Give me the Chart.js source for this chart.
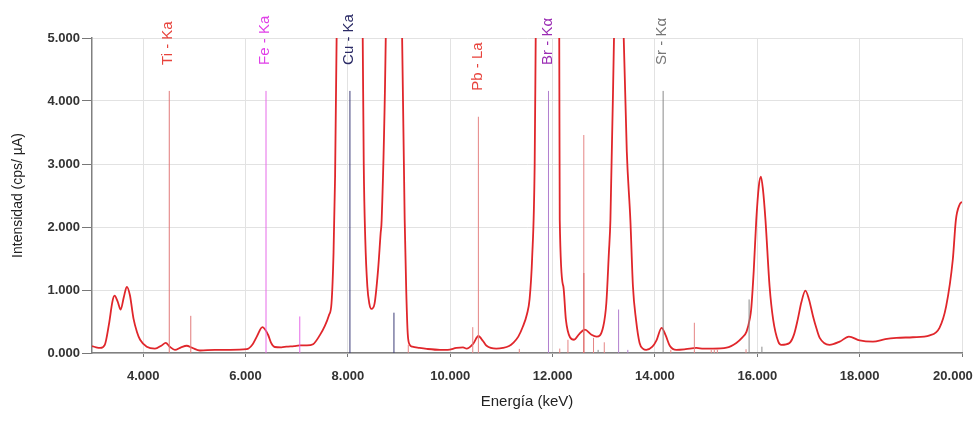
<!DOCTYPE html>
<html>
<head>
<meta charset="utf-8">
<script src="https://cdn.jsdelivr.net/npm/chart.js@4/dist/chart.umd.min.js"></script>
<style>
  body { margin: 0; background: #fff; }
  #wrap { width: 975px; height: 422px; }
</style>
</head>
<body>
<div id="wrap"><canvas id="spectrum"></canvas></div>
<script>
// Espectro (keV, intensidad en miles de cps/µA)
const energy = [
  3.00, 3.08, 3.16, 3.25, 3.33, 3.40, 3.44, 3.50, 3.56, 3.62, 3.68, 3.74, 3.81, 3.88, 3.94,
  4.07, 4.23, 4.36, 4.44, 4.52, 4.62, 4.74, 4.85, 4.96, 5.11, 5.40, 5.70, 6.02, 6.14, 6.22,
  6.33, 6.44, 6.50, 6.57, 6.70, 6.80, 6.95, 7.06, 7.20, 7.32, 7.45, 7.55, 7.63, 7.68, 7.72,
  7.75, 7.78, 7.82, 7.90, 8.03, 8.16, 8.24, 8.29, 8.31, 8.34, 8.38, 8.42, 8.46, 8.52, 8.59,
  8.64, 8.66, 8.74, 8.80, 8.90, 9.00, 9.06, 9.11, 9.14, 9.17, 9.21, 9.26, 9.40, 9.54, 9.80,
  9.95, 10.12, 10.25, 10.32, 10.45, 10.55, 10.64, 10.71, 10.90, 11.03, 11.15, 11.23, 11.33, 11.42, 11.50,
  11.55, 11.60, 11.65, 11.67, 11.75, 11.90, 12.05, 12.13, 12.14, 12.21, 12.26, 12.34, 12.42, 12.52, 12.63,
  12.76, 12.86, 12.99, 13.05, 13.10, 13.13, 13.20, 13.29, 13.39, 13.45, 13.52, 13.57, 13.63, 13.70, 13.77,
  13.83, 13.95, 14.03, 14.13, 14.21, 14.29, 14.42, 14.60, 14.81, 14.95, 15.13, 15.40, 15.59, 15.70, 15.79,
  15.85, 15.88, 15.93, 15.98, 16.03, 16.07, 16.11, 16.16, 16.24, 16.31, 16.41, 16.47, 16.63, 16.72, 16.79,
  16.86, 16.94, 17.01, 17.09, 17.16, 17.22, 17.41, 17.61, 17.79, 18.00, 18.26, 18.50, 18.72, 19.04, 19.37,
  19.56, 19.69, 19.82, 19.88, 19.95, 20.00
];
const intensity = [
  0.11, 0.09, 0.08, 0.13, 0.45, 0.82, 0.91, 0.82, 0.69, 0.88, 1.05, 0.92, 0.55, 0.33, 0.21,
  0.10, 0.07, 0.12, 0.16, 0.10, 0.05, 0.09, 0.115, 0.08, 0.04, 0.05, 0.05, 0.06, 0.14, 0.26,
  0.41, 0.29, 0.16, 0.095, 0.09, 0.10, 0.11, 0.12, 0.12, 0.14, 0.28, 0.43, 0.60, 0.79, 1.60,
  2.80, 5.00, 9.00, 20.0, 40.0, 20.0, 9.00, 5.00, 3.00, 1.80, 1.06, 0.78, 0.70, 0.78, 1.32,
  1.90, 2.11, 5.00, 10.0, 20.0, 10.0, 5.00, 2.11, 1.00, 0.30, 0.13, 0.10, 0.08, 0.065, 0.05,
  0.05, 0.08, 0.09, 0.07, 0.15, 0.27, 0.19, 0.115, 0.07, 0.08, 0.11, 0.16, 0.26, 0.42, 0.62,
  0.85, 1.50, 3.00, 5.00, 12.0, 30.0, 12.0, 5.00, 2.11, 1.06, 0.53, 0.25, 0.21, 0.30, 0.37,
  0.29, 0.26, 0.42, 0.79, 1.59, 2.11, 5.00, 9.00, 5.00, 3.20, 2.11, 1.06, 0.53, 0.16, 0.065,
  0.05, 0.10, 0.20, 0.40, 0.28, 0.115, 0.05, 0.06, 0.08, 0.07, 0.07, 0.085, 0.16, 0.24, 0.34,
  0.53, 0.69, 1.30, 2.11, 2.65, 2.80, 2.60, 2.11, 1.06, 0.53, 0.18, 0.13, 0.16, 0.30, 0.53,
  0.80, 0.99, 0.85, 0.58, 0.38, 0.24, 0.13, 0.18, 0.26, 0.20, 0.18, 0.22, 0.24, 0.25, 0.28,
  0.40, 0.74, 1.48, 2.11, 2.35, 2.40
];

// Líneas de elementos: [energía, altura]
const tiLines = [[4.51, 4.16], [4.93, 0.59]];
const feLines = [[6.40, 4.16], [7.06, 0.58]];
const cuLines = [[8.04, 4.16], [8.90, 0.64]];
const pbLines = [[10.55, 3.75], [12.61, 3.46], [9.18, 0.13], [10.44, 0.41], [11.35, 0.065],
  [12.14, 0.07], [12.30, 0.21], [12.80, 0.24], [13.01, 0.17], [14.31, 0.05], [14.77, 0.48],
  [15.10, 0.05], [15.16, 0.05], [15.22, 0.05], [15.78, 0.06]];
const redLines = [[12.61, 1.27]];
const brLines = [[11.92, 4.16], [13.29, 0.69], [13.47, 0.05]];
const srLines = [[14.16, 4.16], [15.84, 0.85], [16.09, 0.10], [12.89, 0.05]];

// Etiquetas de picos: [texto, energía, altura de la línea, color]
const peakLabels = [
  ["Ti - Ka", 4.51, 4.16, "#e8433c"],
  ["Fe - Ka", 6.40, 4.16, "#e040e8"],
  ["Cu - Ka", 8.04, 4.16, "#2b2b66"],
  ["Pb - La", 10.55, 3.75, "#e8433c"],
  ["Br - Kα", 11.92, 4.16, "#9b2db4"],
  ["Sr - Kα", 14.16, 4.16, "#777777"]
];

const xTicks = [4, 6, 8, 10, 12, 14, 16, 18, 20];

const FONT = "'Liberation Sans', Arial, sans-serif";

// segmentos verticales separados por null
function toSegments(lines) {
  const out = [];
  lines.forEach(([e, h]) => {
    out.push({ x: e, y: 0 }, { x: e, y: h }, { x: e, y: null });
  });
  return out;
}

function lineSet(lines, color) {
  return {
    data: toSegments(lines),
    borderColor: color,
    borderWidth: 1,
    pointRadius: 0,
    tension: 0,
    spanGaps: false
  };
}

// Plugin para los rótulos girados
const labelPlugin = {
  id: "peakLabels",
  afterDatasetsDraw(chart) {
    const { ctx, scales } = chart;
    ctx.save();
    ctx.font = "15px " + FONT;
    ctx.textAlign = "left";
    ctx.textBaseline = "middle";
    peakLabels.forEach(([txt, e, h, color]) => {
      const x = scales.x.getPixelForValue(e) - 1;
      const y = scales.y.getPixelForValue(h) - 26;
      ctx.save();
      ctx.translate(x, y);
      ctx.rotate(-Math.PI / 2);
      ctx.fillStyle = color;
      ctx.fillText(txt, 0, 0);
      ctx.restore();
    });
    ctx.restore();
  }
};

const chart = new Chart(document.getElementById("spectrum"), {
  type: "line",
  data: {
    datasets: [
      lineSet(tiLines, "#e27a7a"),
      lineSet(feLines, "#e66ae8"),
      lineSet(cuLines, "#3d3d78"),
      lineSet(pbLines, "#e58585"),
      lineSet(redLines, "#d42a2a"),
      lineSet(brLines, "#b27fcf"),
      lineSet(srLines, "#8a8a8a"),
      {
        data: energy.map((e, i) => ({ x: e, y: intensity[i] })),
        borderColor: "#e0262b",
        borderWidth: 1.8,
        pointRadius: 0,
        cubicInterpolationMode: "monotone"
      }
    ]
  },
  options: {
    responsive: true,
    maintainAspectRatio: false,
    animation: false,
    layout: { padding: { left: 0, right: 13, top: 38, bottom: 0 } },
    plugins: {
      legend: { display: false },
      tooltip: { enabled: false }
    },
    scales: {
      x: {
        type: "linear",
        min: 3,
        max: 20,
        afterBuildTicks: s => { s.ticks = xTicks.map(v => ({ value: v })); },
        afterFit: s => { s.height = 69; s.paddingLeft = 0; s.paddingRight = 0; },
        grid: { color: "#e2e2e2", tickColor: "#777", tickLength: 4 },
        border: { color: "#808080", width: 1.5 },
        ticks: {
          padding: 12,
          maxRotation: 0,
          color: "#333",
          font: { family: FONT, size: 13, weight: "bold" },
          callback: v => v === 20 ? v.toFixed(3) + "     " : v.toFixed(3)
        },
        title: {
          display: true,
          text: "Energía (keV)",
          color: "#222",
          font: { family: FONT, size: 15 },
          padding: { top: 4, bottom: 11 }
        }
      },
      y: {
        min: 0,
        max: 5,
        afterFit: s => { s.width = 92; },
        grid: { color: "#e2e2e2", tickColor: "#777", tickLength: 10 },
        border: { color: "#808080", width: 1.5 },
        ticks: {
          stepSize: 1,
          padding: 2,
          color: "#333",
          font: { family: FONT, size: 13, weight: "bold" },
          callback: v => v.toFixed(3)
        },
        title: {
          display: true,
          text: "Intensidad (cps/ µA)",
          color: "#222",
          font: { family: FONT, size: 14 },
          padding: { top: 10, bottom: 0 }
        }
      }
    }
  },
  plugins: [labelPlugin]
});
</script>
</body>
</html>
